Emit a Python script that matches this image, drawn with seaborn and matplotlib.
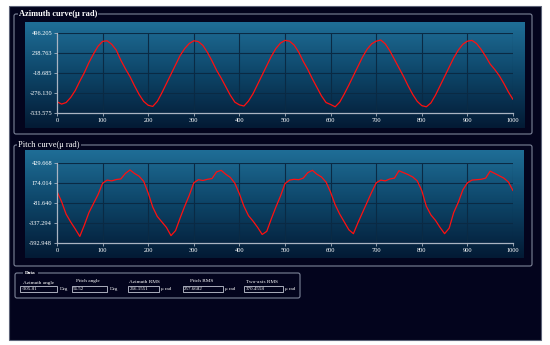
import matplotlib
matplotlib.use("Agg")
import matplotlib.pyplot as plt
import numpy as np
import pandas as pd
import seaborn as sns
from matplotlib.colors import LinearSegmentedColormap
from matplotlib.patches import Rectangle, FancyBboxPatch

# sample index (every 10th sample)
sample = list(range(0, 1001, 10))

azimuth = [
    -384, -415, -395, -330, -240, -120, -10, 120, 230, 330,
    392, 400, 355, 280, 150, 40, -60, -180, -290, -380,
    -430, -445, -380, -270, -150, -30, 90, 210, 300, 365,
    400, 390, 340, 250, 140, 20, -80, -190, -300, -390,
    -425, -440, -375, -280, -160, -40, 80, 200, 300, 370,
    405, 395, 345, 255, 135, 30, -90, -200, -310, -395,
    -420, -450, -390, -285, -170, -50, 70, 190, 290, 360,
    395, 410, 360, 270, 160, 50, -60, -180, -290, -380,
    -435, -450, -400, -300, -180, -60, 60, 180, 280, 355,
    395, 405, 365, 290, 200, 100, 30, -50, -150, -260,
    -355,
]

pitch = [
    70, -60, -220, -320, -410, -505, -360, -200, -85, 30,
    175, 215, 205, 222, 230, 300, 345, 300, 265, 200,
    50, -130, -250, -320, -390, -495, -430, -270, -120, 20,
    180, 220, 210, 225, 235, 320, 340, 290, 250, 175,
    40, -120, -240, -310, -390, -480, -440, -280, -130, 10,
    170, 215, 225, 220, 240, 310, 340, 290, 255, 190,
    60, -100, -220, -320, -420, -470, -330, -200, -70, 60,
    180, 215, 205, 230, 240, 335, 310, 285, 255, 205,
    80, -120, -230, -300, -390, -470, -400, -200, -70, 90,
    180, 215, 220, 225, 240, 330, 300, 270, 240, 190,
    80,
]

az_ticks = [496.205, 238.763, -18.685, -276.130, -533.575]
pitch_ticks = [429.668, 174.014, -81.640, -337.294, -592.948]
x_ticks = list(range(0, 1001, 100))

field_labels = ["Azimuth angle", "Pitch angle", "Azimuth RMS", "Pitch RMS", "Two-axis RMS"]
field_values = ["-305.81", "56.52", "266.1551", "257.6682", "370.4558"]
field_units = ["Deg", "Deg", "\u03bc rad", "\u03bc rad", "\u03bc rad"]

sns.set_style("dark")
plt.rcParams["font.family"] = ["Liberation Serif", "DejaVu Serif"]

W, H = 550, 345
NAVY = "#03041d"
EDGE = "#7d8499"
fig = plt.figure(figsize=(5.5, 3.45), dpi=100)
fig.patch.set_facecolor("white")

# pixel-space background layer
bg = fig.add_axes([0, 0, 1, 1])
bg.axis("off")
bg.add_patch(Rectangle((9, 6), 532, 334, fc=NAVY, ec="#5d6378", lw=0.8))

teal = LinearSegmentedColormap.from_list("teal", ["#1f6e97", "#0d4467", "#031a34"])
grad = np.linspace(0, 1, 256).reshape(-1, 1)
for (x0, x1, y0, y1) in [(25, 525, 22, 128), (25, 524, 150, 258)]:
    bg.imshow(grad, extent=(x0, x1, y1, y0), cmap=teal, aspect="auto", zorder=1)

# group boxes
for (x0, y0, x1, y1) in [(14, 14, 532, 134), (14, 145, 532, 266), (15, 273, 300, 298)]:
    bg.add_patch(FancyBboxPatch((x0, y0), x1 - x0, y1 - y0,
                                boxstyle="round,pad=0,rounding_size=2",
                                fc="none", ec=EDGE, lw=0.8, zorder=2))

bg.text(19, 14, "Azimuth curve(\u03bc rad)", color="white", fontsize=6, fontweight="bold",
        va="center", ha="left", zorder=3,
        bbox=dict(fc=NAVY, ec="none", pad=0.8))
bg.text(18, 145, "Pitch curve(\u03bc rad)", color="white", fontsize=6,
        va="center", ha="left", zorder=3,
        bbox=dict(fc=NAVY, ec="none", pad=0.8))
bg.text(25, 273.5, "Data", color="white", fontsize=3.8, fontweight="bold",
        va="center", ha="left", zorder=3,
        bbox=dict(fc=NAVY, ec="none", pad=1.5))

# data fields
label_pos = [(39, 282.7), (88, 280.7), (144, 281.7), (202, 281), (262, 282.3)]
box_pos = [(20, 57.3), (71.7, 107.3), (128.3, 159.3), (182.7, 222.7), (244, 283.3)]
for lab, val, unit, (lx, ly), (bx0, bx1) in zip(field_labels, field_values, field_units,
                                                label_pos, box_pos):
    bg.text(lx, ly, lab, color="white", fontsize=3.8, ha="center", va="center", zorder=3)
    bg.add_patch(Rectangle((bx0, 285.7), bx1 - bx0, 6.6, fc=NAVY, ec="#c4c8d4",
                           lw=0.6, zorder=3))
    bg.text(bx0 + 1.5, 289, val, color="white", fontsize=3.6, ha="left", va="center", zorder=4)
    bg.text(bx1 + 2, 289, unit, color="white", fontsize=3.6, ha="left", va="center", zorder=4)

bg.set_xlim(0, W)
bg.set_ylim(H, 0)


def style_axes(ax, ticks):
    ax.set_facecolor("none")
    ax.set_xlim(0, 1000)
    ax.set_ylim(min(ticks), max(ticks))
    ax.set_xticks(x_ticks)
    ax.set_xticklabels([str(t) for t in x_ticks])
    ax.set_yticks(ticks)
    ax.set_yticklabels([f"{t:.3f}" for t in ticks])
    ax.grid(True, color="#0a2a44", lw=0.8)
    for side in ["top", "right"]:
        ax.spines[side].set_visible(False)
    for side in ["left", "bottom"]:
        ax.spines[side].set_visible(True)
        ax.spines[side].set_color("#aab4c2")
        ax.spines[side].set_linewidth(0.9)
    ax.tick_params(axis="both", colors="#aab4c2", labelcolor="white", labelsize=4.6,
                   length=2, width=0.6, pad=1.5, left=True, bottom=True)
    ax.set_xlabel("")
    ax.set_ylabel("")


df = pd.DataFrame({"sample": sample, "azimuth": azimuth, "pitch": pitch})

ax1 = fig.add_axes([57 / W, 1 - 113.3 / H, 456 / W, 80 / H])
sns.lineplot(data=df, x="sample", y="azimuth", ax=ax1, color="#ff1010", lw=0.9)
style_axes(ax1, az_ticks)

ax2 = fig.add_axes([57 / W, 1 - 243.3 / H, 456 / W, 80 / H])
sns.lineplot(data=df, x="sample", y="pitch", ax=ax2, color="#ff1010", lw=0.9)
style_axes(ax2, pitch_ticks)

fig.savefig("out.png", dpi=100, facecolor="white")
